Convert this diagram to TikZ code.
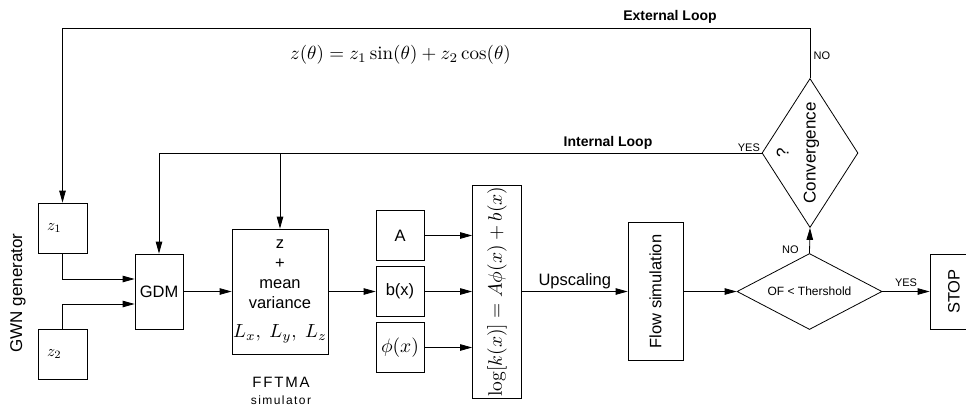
\documentclass[tikz,border=0pt]{standalone}
\usepackage{fontspec}
\setsansfont{Liberation Sans}
\newfontfamily\spacedsf[LetterSpace=12]{Liberation Sans}
\usetikzlibrary{positioning, arrows.meta, shapes.geometric}
% math scaled up from 10pt
\newcommand{\bigmath}[2]{\scalebox{#1}{\fontsize{10}{12}\selectfont$#2$}}

\begin{document}
\begin{tikzpicture}[
    x=1pt, y=-1pt,
    every node/.style={font=\sffamily},
    blk/.style={rectangle, draw=black, line width=0.8pt, inner sep=0pt,
        font=\fontsize{16.5}{20}\selectfont\sffamily},
    gen/.style={blk, minimum width=49pt, minimum height=50pt,
        text width=31pt, align=left, inner xsep=9pt},
    coef/.style={blk, minimum width=48pt, minimum height=50pt},
    dec/.style={diamond, draw=black, line width=0.8pt, inner sep=0pt},
    lbl/.style={font=\fontsize{11}{13}\selectfont\sffamily, inner sep=1.5pt},
    looplbl/.style={font=\fontsize{14}{16}\selectfont\sffamily\bfseries},
    ln/.style={draw=black, line width=0.8pt},
    flowarrow/.style={ln, -{Triangle[length=12pt,width=6.5pt]}},
]

\useasboundingbox (0,0) rectangle (966,407);

% ====== GENERATOR ======
\node[gen] (z1) at (62.5,228) {\bigmath{1.6}{z_1}};
\node[gen] (z2) at (62.5,354) {\bigmath{1.6}{z_2}};
\node[rotate=90, font=\fontsize{17}{20}\selectfont\sffamily] (gwn) at (18,293)
    {GWN generator};

\node[blk, minimum width=48pt, minimum height=75pt] (gdm) at (159,291.5) {GDM};

% ====== FFTMA ======
\node[blk, minimum width=96pt, minimum height=125pt, align=center] (fftma)
    at (280,291.5) {z\\+\\mean\\variance\\[9pt]\bigmath{1.9}{L_x,\; L_y,\; L_z}};
\node[font=\fontsize{15}{18}\selectfont\spacedsf] (fftma-name) at (281,382) {FFTMA};
\node[font=\fontsize{12}{14}\selectfont\spacedsf] (fftma-sim) at (281,400) {simulator};

% ====== COEFFICIENTS ======
\node[coef] (A)   at (400,235.5) {A};
\node[coef] (bx)  at (400,291.5) {b(x)};
\node[coef] (phi) at (400,347.5) {\bigmath{1.95}{\phi(x)}};

% rotated boxes: north is the left side
\node[blk, rotate=90, minimum width=213pt, minimum height=49pt] (logk)
    at (497,291.5) {\bigmath{1.95}{\log[k(x)] = A\phi(x) + b(x)}};
\node[blk, rotate=90, minimum width=138pt, minimum height=55pt] (flow)
    at (655.5,291.5) {Flow simulation};

% ====== DECISIONS ======
\node[dec, aspect=1.9, minimum width=145pt, minimum height=76pt,
    font=\fontsize{12}{14}\selectfont\sffamily] (of) at (809.5,291.5) {OF < Thershold};
\node[dec, minimum width=96pt, minimum height=149pt] (conv) at (810,153) {};
\node[rotate=90, align=center, font=\fontsize{17}{27}\selectfont\sffamily]
    (conv-text) at (798,153) {?\\Convergence};
\node[blk, rotate=90, minimum width=75pt, minimum height=48pt] (stop)
    at (954,291.5) {STOP};

% ====== CONNECTORS ======
\draw[flowarrow] (z1.south) |- ([yshift=12.5pt]gdm.west);
\draw[flowarrow] (z2.north) |- ([yshift=-12.5pt]gdm.west);
\foreach \a/\b in {gdm/fftma, fftma/bx, flow/of}
    \draw[flowarrow] (\a) -- (\b);
\foreach \a in {A, bx, phi}
    \draw[flowarrow] (\a) -- (\a -| logk.north);
\draw[flowarrow] (logk) -- node[above, font=\fontsize{16.5}{20}\selectfont\sffamily,
    inner sep=2pt] {Upscaling} (flow);
\draw[flowarrow] (of) -- node[lbl, above, inner sep=4pt] {YES} (stop);
\draw[flowarrow] (of.north) -- node[lbl, pos=0.15, left=9pt] {NO} (conv.south);

% internal loop
\draw[flowarrow] (conv.west) -| (gdm.north);
\draw[flowarrow] (fftma.north |- conv.west) -- (fftma.north);
\node[lbl, anchor=south east] (yes-int) at (conv.west) {YES};
\node[looplbl] (int-name) at (608,143) {Internal Loop};

% external loop
\coordinate (ext) at (0,28);
\draw[flowarrow] (conv.north) -- (conv.north |- ext) -| (z1.north);
\node[lbl, anchor=west] (no-ext) at (812,56) {NO};
\node[looplbl] (ext-name) at (670,17) {External Loop};
\node (ztheta) at (400.5,55)
    {\bigmath{1.9}{z(\theta) = z_1\sin(\theta) + z_2\cos(\theta)}};

\end{tikzpicture}
\end{document}
